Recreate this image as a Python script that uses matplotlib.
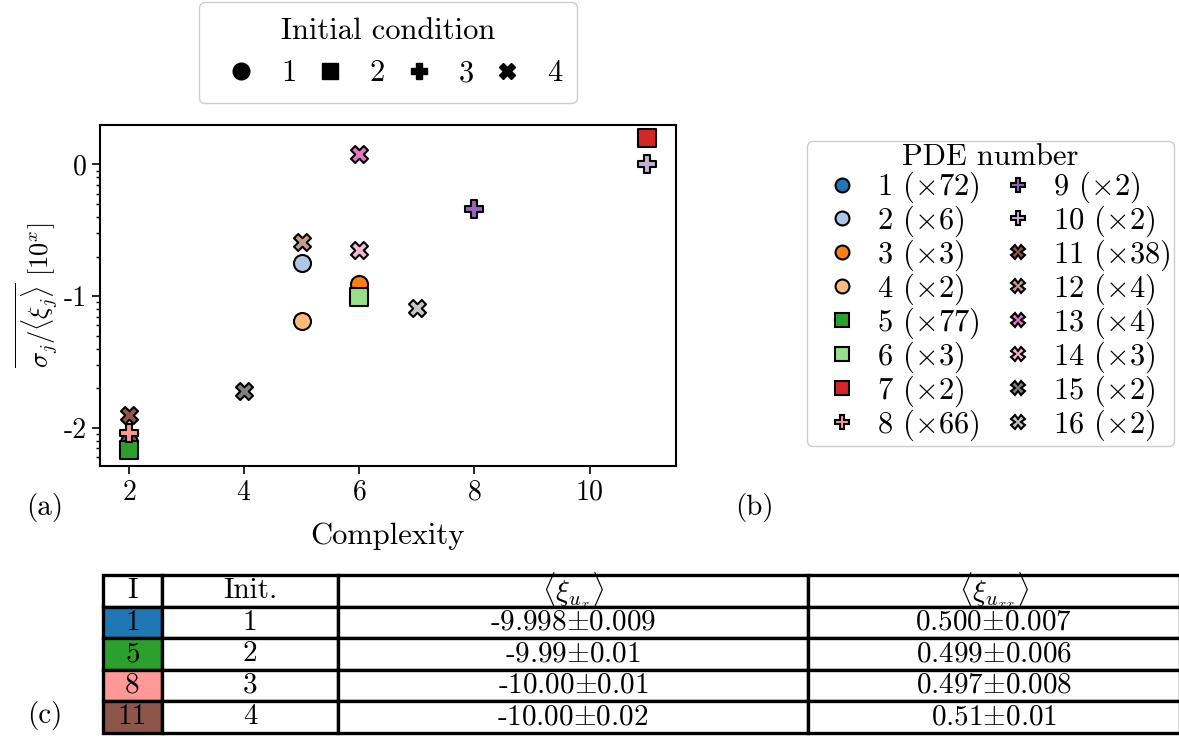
import numpy as np
import matplotlib
matplotlib.use("Agg")
import matplotlib.pyplot as plt
from matplotlib.lines import Line2D
from matplotlib.ticker import FuncFormatter, LogLocator

plt.rcParams['font.family'] = ['cmr10', 'DejaVu Serif']
plt.rcParams['mathtext.fontset'] = 'cm'
plt.rcParams['axes.unicode_minus'] = False
plt.rcParams['axes.formatter.use_mathtext'] = True

# one entry per distinct PDE found
pde_id = list(range(1, 17))
complexity = [2, 5, 6, 5, 2, 6, 11, 2, 8, 11, 2, 5, 6, 6, 4, 7]
log_ratio = [-2.11, -0.75, -0.905, -1.19, -2.17, -1.01, 0.20, -2.04,
             -0.34, 0.00, -1.90, -0.59, 0.08, -0.65, -1.72, -1.09]
counts = [72, 6, 3, 2, 77, 3, 2, 66, 2, 2, 38, 4, 4, 3, 2, 2]
init_cond = [1, 1, 1, 1, 2, 2, 2, 3, 3, 3, 4, 4, 4, 4, 4, 4]

init_labels = ['1', '2', '3', '4']
markers = {1: 'o', 2: 's', 3: 'P', 4: 'X'}
colors = plt.get_cmap('tab20').colors

# table of the coefficients for the most common PDEs
tab_ids = ['1', '5', '8', '11']
tab_init = ['1', '2', '3', '4']
tab_ux = ['-9.998$\\pm$0.009', '-9.99$\\pm$0.01', '-10.00$\\pm$0.01', '-10.00$\\pm$0.02']
tab_uxx = ['0.500$\\pm$0.007', '0.499$\\pm$0.006', '0.497$\\pm$0.008', '0.51$\\pm$0.01']
tab_colors = [colors[0], colors[4], colors[7], colors[10]]

W, H = 1179, 742
fig = plt.figure(figsize=(W / 100, H / 100), dpi=100)

ax = fig.add_axes([100 / W, 1 - 466 / H, 576 / W, 341 / H])
for i in range(len(pde_id)):
    ax.scatter(complexity[i], 10 ** log_ratio[i], s=150, marker=markers[init_cond[i]],
               c=[colors[i]], edgecolors='black', linewidths=1.5, zorder=3)

ax.set_yscale('log')
ax.set_xlim(1.5, 11.5)
ax.set_ylim(10 ** -2.29, 10 ** 0.30)
ax.set_xticks([2, 4, 6, 8, 10])
ax.yaxis.set_major_locator(LogLocator(base=10, numticks=10))
ax.yaxis.set_major_formatter(FuncFormatter(lambda v, p: '%d' % round(np.log10(v))))
ax.tick_params(labelsize=20, width=1.2, length=6)
ax.tick_params(which='minor', width=1.0, length=3)
for sp in ax.spines.values():
    sp.set_linewidth(1.5)
ax.set_xlabel('Complexity', fontsize=22, labelpad=12)
ax.set_ylabel('$\\overline{\\sigma_j/\\langle\\xi_j\\rangle}$ [$10^x$]', fontsize=19,
              labelpad=2)

# legend for the initial conditions
init_handles = [Line2D([], [], ls='none', marker=markers[k + 1], color='black',
                       markersize=12) for k in range(4)]
fig.legend(init_handles, init_labels, title='Initial condition', ncol=4,
           loc='upper center', bbox_to_anchor=(388 / W, 1 - 2 / H), borderaxespad=0,
           fontsize=22, title_fontsize=22, handlelength=1.8, handletextpad=0.4,
           columnspacing=0.2, borderpad=0.5, framealpha=1, edgecolor='#cccccc',
           fancybox=True)

# legend for the PDE numbers
pde_handles = [Line2D([], [], ls='none', marker=markers[init_cond[i]],
                      markerfacecolor=colors[i], markeredgecolor='black',
                      markeredgewidth=1.5, markersize=10) for i in range(len(pde_id))]
pde_labels = ['%d ($\\times$%d)' % (pde_id[i], counts[i]) for i in range(len(pde_id))]
fig.legend(pde_handles, pde_labels, title='PDE number', ncol=2,
           loc='upper left', bbox_to_anchor=(807 / W, 1 - 141 / H), borderaxespad=0,
           fontsize=22, title_fontsize=22, labelspacing=-0.05, handlelength=2.1,
           handletextpad=0.1, columnspacing=0.2, borderpad=0.1, framealpha=1,
           edgecolor='#cccccc')

fig.text(45 / W, 1 - 508 / H, '(a)', fontsize=21, ha='center', va='center')
fig.text(754 / W, 1 - 508 / H, '(b)', fontsize=21, ha='center', va='center')
fig.text(45 / W, 1 - 716 / H, '(c)', fontsize=21, ha='center', va='center')

# table
tax = fig.add_axes([103 / W, 1 - 733 / H, 1077 / W, 158 / H])
tax.axis('off')
cells = [[tab_ids[r], tab_init[r], tab_ux[r], tab_uxx[r]] for r in range(4)]
col_w = np.array([59, 176, 470, 372], dtype=float)
tbl = tax.table(cellText=cells,
                colLabels=['I', 'Init.', '$\\langle\\xi_{u_x}\\rangle$',
                           '$\\langle\\xi_{u_{xx}}\\rangle$'],
                colWidths=list(col_w / col_w.sum()), cellLoc='center',
                bbox=[0, 0, 1, 1])
tbl.auto_set_font_size(False)
tbl.set_fontsize(21)
for (r, c), cell in tbl.get_celld().items():
    cell.set_linewidth(2.4)
    cell.set_edgecolor('black')
    if r > 0 and c == 0:
        cell.set_facecolor(tab_colors[r - 1])

fig.savefig('out.png', dpi=100)
